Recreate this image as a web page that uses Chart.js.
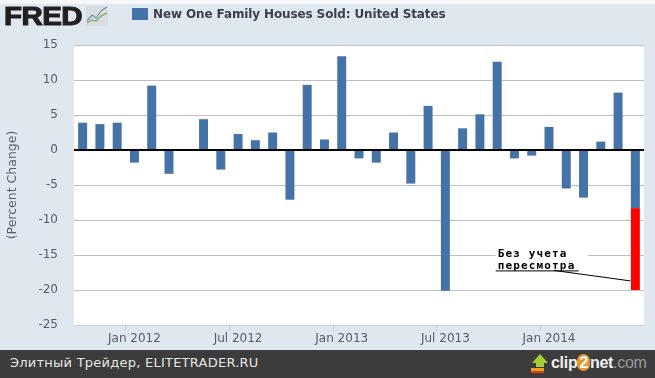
<!DOCTYPE html>
<html>
<head>
<meta charset="utf-8">
<script src="https://cdn.jsdelivr.net/npm/chart.js@4"></script>
<style>
  html, body { margin: 0; padding: 0; background: #dfe7ef; overflow: hidden; }
  #wrap { position: relative; width: 655px; height: 378px; overflow: hidden; }
  #topStrip { position: absolute; left: 0; top: 0; width: 655px; height: 4px; background: #f6f7f8; }
  #chartBox { position: absolute; left: 0; top: 0; width: 655px; height: 350px; }
  #fred { position: absolute; left: 4px; top: 2px; font: 900 25px "Liberation Sans", sans-serif; color: #231f20; letter-spacing: -0.5px; -webkit-text-stroke: 1px #231f20; line-height: 28px; transform: scaleX(1.18); transform-origin: left top; }
  #icon { position: absolute; left: 86px; top: 6px; }
  #legendBox { position: absolute; left: 132px; top: 8px; width: 16px; height: 12px; background: #4572a7; }
  #legendText { position: absolute; left: 153px; top: 6px; font: bold 12px "DejaVu Sans", sans-serif; letter-spacing: -0.12px; color: #3e3e4e; line-height: 16px; white-space: nowrap; }
  #footer { position: absolute; left: 0; top: 350px; width: 655px; height: 28px; background: #3c3c3c; }
  #footText { position: absolute; left: 10px; top: 5px; font: 13px "DejaVu Sans", sans-serif; color: #e6e6e6; letter-spacing: 0.24px; line-height: 16px; white-space: nowrap; }
  #arrow { position: absolute; left: 530px; top: 3px; }
  #clip { position: absolute; left: 551px; top: 3px; font: bold 16px "Liberation Sans", sans-serif; color: #f2f2f2; line-height: 20px; letter-spacing: -0.3px; white-space: nowrap; }
  #clip i { font-style: normal; font-weight: normal; color: #9a9a9a; }
  #clip b { color: #fff; background: #e8952a; border-radius: 8px; padding: 0 2px; }
</style>
</head>
<body>
<div id="wrap">
  <div id="topStrip"></div>
  <div id="chartBox"><canvas id="houseChart" width="655" height="350"></canvas></div>
  <div id="fred">FRED</div>
  <svg id="icon" width="22" height="20">
    <rect width="22" height="20" rx="2" fill="#d9dde1"/>
    <polyline points="1,15 6,9 10,12 15,5 21,1" fill="none" stroke="#6f8fb2" stroke-width="1.2"/>
    <polyline points="1,17 6,14 10,15 15,10 21,7" fill="none" stroke="#7fa24a" stroke-width="1.2"/>
  </svg>
  <div id="legendBox"></div>
  <div id="legendText"></div>
  <div id="footer">
    <div id="footText">Элитный Трейдер, ELITETRADER.RU</div>
    <svg id="arrow" width="20" height="22">
      <polygon points="10,1 18,10 14,10 14,14 6,14 6,10 2,10" fill="#a4cf3a"/>
      <rect x="1" y="15" width="13" height="3" fill="#f0a020"/>
      <rect x="1" y="18" width="13" height="2" fill="#d8401c"/>
    </svg>
    <div id="clip">clip<b>2</b>net<i>.com</i></div>
  </div>
</div>
<script>
const seriesName = "New One Family Houses Sold: United States";
const yTitle = "(Percent Change)";
const noteLines = ["Без учета", "пересмотра"];

const months = [
  "Oct 2011", "Nov 2011", "Dec 2011", "Jan 2012", "Feb 2012", "Mar 2012", "Apr 2012", "May 2012", "Jun 2012",
  "Jul 2012", "Aug 2012", "Sep 2012", "Oct 2012", "Nov 2012", "Dec 2012", "Jan 2013", "Feb 2013", "Mar 2013",
  "Apr 2013", "May 2013", "Jun 2013", "Jul 2013", "Aug 2013", "Sep 2013", "Oct 2013", "Nov 2013", "Dec 2013",
  "Jan 2014", "Feb 2014", "Mar 2014", "Apr 2014", "May 2014", "Jun 2014"
];
const tickMonths = ["Jan 2012", "Jul 2012", "Jan 2013", "Jul 2013", "Jan 2014"];

const changes = [
  3.9, 3.7, 3.9, -1.8, 9.2, -3.4, 0, 4.4, -2.8,
  2.3, 1.4, 2.5, -7.1, 9.3, 1.5, 13.4, -1.2, -1.8,
  2.5, -4.8, 6.3, -20.1, 3.1, 5.1, 12.6, -1.2, -0.8,
  3.3, -5.5, -6.8, 1.2, 8.2, -8.3
];
// part of the last bar before the revision, drawn in red
const unrevised = [
  0, 0, 0, 0, 0, 0, 0, 0, 0,
  0, 0, 0, 0, 0, 0, 0, 0, 0,
  0, 0, 0, 0, 0, 0, 0, 0, 0,
  0, 0, 0, 0, 0, -11.7
];

document.getElementById("legendText").textContent = seriesName;

const plotBackground = {
  id: "plotBackground",
  beforeDraw(chart) {
    const { ctx, chartArea } = chart;
    ctx.save();
    ctx.fillStyle = "#ffffff";
    ctx.fillRect(chartArea.left, chartArea.top, chartArea.width, chartArea.height);
    ctx.restore();
  },
};

// hand-written note from the screenshot, anchored on the last bar
const revisionNote = {
  id: "revisionNote",
  afterDraw(chart) {
    const { ctx, scales } = chart;
    const endX = scales.x.getPixelForValue(months.length - 1) - 5;
    const endY = scales.y.getPixelForValue(-18.7);
    const lineY = scales.y.getPixelForValue(-17.2);
    const textX = scales.x.getPixelForValue(24) + 0.5;
    ctx.save();
    ctx.fillStyle = "#ffffff";
    ctx.fillRect(textX - 2, lineY - 24, 92, 22);
    ctx.strokeStyle = "#000000";
    ctx.lineWidth = 1;
    ctx.beginPath();
    ctx.moveTo(textX - 2, lineY + 0.5);
    ctx.lineTo(textX + 81, lineY + 0.5);
    ctx.moveTo(textX + 56, lineY);
    ctx.lineTo(endX, endY);
    ctx.stroke();
    ctx.fillStyle = "#000000";
    ctx.font = 'bold 11px "DejaVu Sans Mono", monospace';
    ctx.letterSpacing = "1.15px";
    ctx.textBaseline = "alphabetic";
    ctx.fillText(noteLines[0], textX, lineY - 13);
    ctx.fillText(noteLines[1], textX, lineY - 1);
    ctx.restore();
  },
};

new Chart(document.getElementById("houseChart"), {
  type: "bar",
  data: {
    labels: months,
    datasets: [
      { label: seriesName, data: changes, backgroundColor: "#4572a7", barPercentage: 0.52, categoryPercentage: 1 },
      { label: "Без учета пересмотра", data: unrevised, backgroundColor: "#ff0000", barPercentage: 0.52, categoryPercentage: 1 },
    ],
  },
  options: {
    responsive: false,
    animation: false,
    layout: { padding: { top: 45, right: 11, bottom: 0, left: 0 } },
    plugins: { legend: { display: false }, tooltip: { enabled: false } },
    scales: {
      x: {
        stacked: true,
        afterFit: (axis) => { axis.height = 25; },
        border: { color: "#c0d0e0" },
        grid: {
          drawOnChartArea: false,
          tickLength: 6,
          color: (c) => (c.tick && tickMonths.includes(c.tick.label) ? "#c0d0e0" : "transparent"),
        },
        ticks: {
          autoSkip: false,
          maxRotation: 0,
          padding: 1,
          color: "#5a5a6e",
          font: { family: "DejaVu Sans", size: 12 },
          callback(value) {
            const m = months[value];
            return tickMonths.includes(m) ? m : "";
          },
        },
      },
      y: {
        stacked: true,
        min: -25,
        max: 15,
        afterFit: (axis) => { axis.width = 74; },
        border: { display: false },
        title: {
          display: true,
          text: yTitle,
          color: "#5a5a6e",
          padding: { top: 5, bottom: 0 },
          font: { family: "DejaVu Sans", size: 12.5 },
        },
        grid: {
          drawTicks: false,
          color: (c) => (c.tick.value === 0 ? "#000000" : c.tick.value === -25 ? "transparent" : "#c0c0c0"),
          lineWidth: (c) => (c.tick.value === 0 ? 2 : 1),
          z: 0,
        },
        ticks: {
          stepSize: 5,
          padding: 16,
          color: "#5a5a6e",
          font: { family: "DejaVu Sans", size: 12 },
        },
      },
    },
  },
  plugins: [plotBackground, revisionNote],
});
</script>
</body>
</html>
